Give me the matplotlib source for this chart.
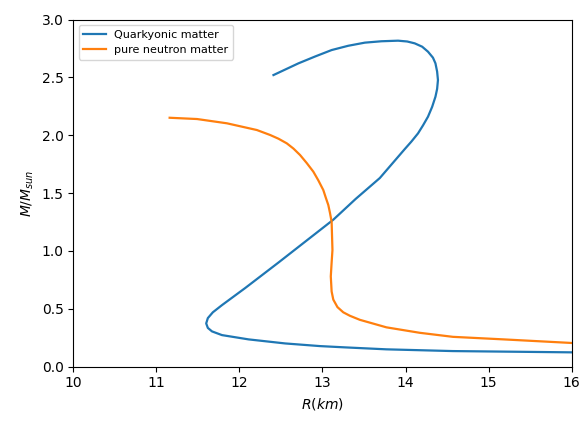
import matplotlib
matplotlib.use("Agg")
import matplotlib.pyplot as plt

# Quarkyonic matter M-R curve
quark_R = [12.41, 12.71, 12.91, 13.11, 13.31, 13.51, 13.71, 13.91, 14.02, 14.11, 14.20,
           14.27, 14.33, 14.36, 14.38, 14.39, 14.38, 14.36, 14.32, 14.27, 14.21,
           14.15, 14.07, 13.99, 13.84, 13.69, 13.40, 13.13, 12.47,
           12.07, 11.79, 11.68, 11.62, 11.60, 11.62, 11.67, 11.79, 12.11, 12.55,
           12.97, 13.27, 13.77, 14.57, 16.0]
quark_M = [2.520, 2.621, 2.680, 2.736, 2.773, 2.800, 2.812, 2.817, 2.810, 2.794, 2.765,
           2.722, 2.670, 2.621, 2.550, 2.477, 2.400, 2.333, 2.245, 2.160, 2.085,
           2.016, 1.945, 1.880, 1.755, 1.630, 1.450, 1.270, 0.900,
           0.680, 0.532, 0.470, 0.420, 0.374, 0.335, 0.305, 0.273, 0.236, 0.201,
           0.178, 0.167, 0.150, 0.135, 0.124]

# Pure neutron matter M-R curve
pnm_R = [11.16, 11.49, 11.85, 12.21, 12.37, 12.47, 12.57, 12.65, 12.73, 12.81, 12.89,
         12.95, 13.01, 13.04, 13.07, 13.09, 13.11, 13.12, 13.11, 13.10, 13.11,
         13.13, 13.18, 13.25, 13.33, 13.45, 13.77, 14.17, 14.57, 15.18, 16.0]
pnm_M = [2.151, 2.140, 2.103, 2.045, 2.002, 1.970, 1.930, 1.885, 1.829, 1.760, 1.685,
         1.610, 1.526, 1.460, 1.397, 1.330, 1.252, 1.008, 0.900, 0.780, 0.650,
         0.580, 0.515, 0.470, 0.440, 0.405, 0.340, 0.293, 0.258, 0.236, 0.205]

labels = ["Quarkyonic matter", "pure neutron matter"]

fig = plt.figure(figsize=(5.83, 4.23), dpi=100)
ax = fig.add_axes([0.1257, 0.1331, 0.8549, 0.8208])
ax.plot(quark_R, quark_M, color="tab:blue", lw=1.6, label=labels[0])
ax.plot(pnm_R, pnm_M, color="tab:orange", lw=1.6, label=labels[1])
ax.set_xlim(10, 16)
ax.set_ylim(0, 3.0)
ax.set_xlabel("$R(km)$")
ax.set_ylabel("$M/M_{sun}$")
ax.legend(loc="upper left", fontsize=8)
fig.savefig("out.png", dpi=100)
